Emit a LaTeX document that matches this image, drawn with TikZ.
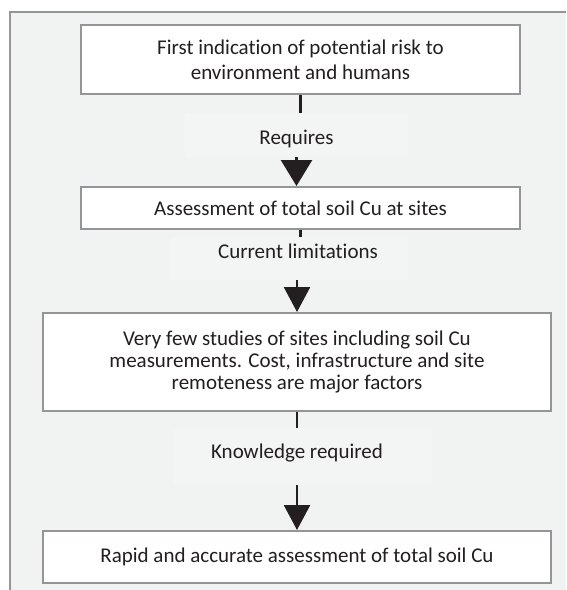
\documentclass[tikz,border=0pt]{standalone}
\usepackage{fontspec}
\setmainfont{Carlito}[Ligatures=NoCommon]
\usepackage{tikz}
\usetikzlibrary{arrows.meta,calc}
\definecolor{framegray}{HTML}{939598}
\definecolor{panelgray}{HTML}{F1F2F2}
\definecolor{bandgray}{HTML}{F3F4F4}
\definecolor{inkgray}{HTML}{231F20}
\def\txt{\fontsize{21}{25}\selectfont}

\begin{document}
\begin{tikzpicture}[x=1pt,y=-1pt,
  stepbox/.style={draw=framegray,line width=2pt,fill=white,inner sep=0pt,align=center,text=inkgray,font=\txt},
  band/.style={fill=bandgray,inner sep=0pt},
  tag/.style={anchor=base,inner sep=0pt,text=inkgray,font=\txt},
  link/.style={line width=2.5pt,color=inkgray},
  flow/.style={line width=2.5pt,color=inkgray,-{Triangle[width=26pt,length=25pt]}}]
%\draw[help lines] (0,0) grid[step=50] (566,590);
\useasboundingbox (0,0) rectangle (566,590);
\fill[panelgray] (10,12) rectangle (566,590);
\draw[framegray,line width=2pt] (566,12)--(10,12)--(10,590);

% boxes
\node[stepbox,minimum width=439pt,minimum height=69pt] (risk) at (300.5,59.5)
  {First indication of potential risk to\\environment and humans};
\node[stepbox,minimum width=439pt,minimum height=42pt] (assess) at (300.5,208)
  {Assessment of total soil Cu at sites};
\node[stepbox,minimum width=508pt,minimum height=98pt,font=\fontsize{21}{22}\selectfont] (studies) at (297,362)
  {Very few studies of sites including soil Cu\\measurements. Cost, infrastructure and site\\remoteness are major factors};
\node[stepbox,minimum width=508pt,minimum height=52pt] (rapid) at (297,557)
  {Rapid and accurate assessment of total soil Cu};

% labels on the links
\node[band,minimum width=223pt,minimum height=44pt] (requires) at (296.5,135) {};
\node[tag] at (296.5,144) {Requires};
\node[band,minimum width=238pt,minimum height=43pt] (limits) at (289,258.5) {};
\node[tag] at (298,258) {Current limitations};
\node[band,minimum width=259pt,minimum height=57pt] (knowledge) at (302.5,456.5) {};
\node[tag] at (297,458) {Knowledge required};

\draw[link] (risk.south)--(risk.south |- requires.north);
\draw[flow,-{Triangle[width=31pt,length=26pt]}] (requires.south)--(requires.south |- assess.north);
\draw[link] (assess.south)--(assess.south |- limits.north);
\draw[flow] (limits.south -| studies.north)--(studies.north);
\draw[link] (studies.south)--(studies.south |- knowledge.north);
\draw[flow] (knowledge.south -| studies.south)--(rapid.north);
\end{tikzpicture}
\end{document}
